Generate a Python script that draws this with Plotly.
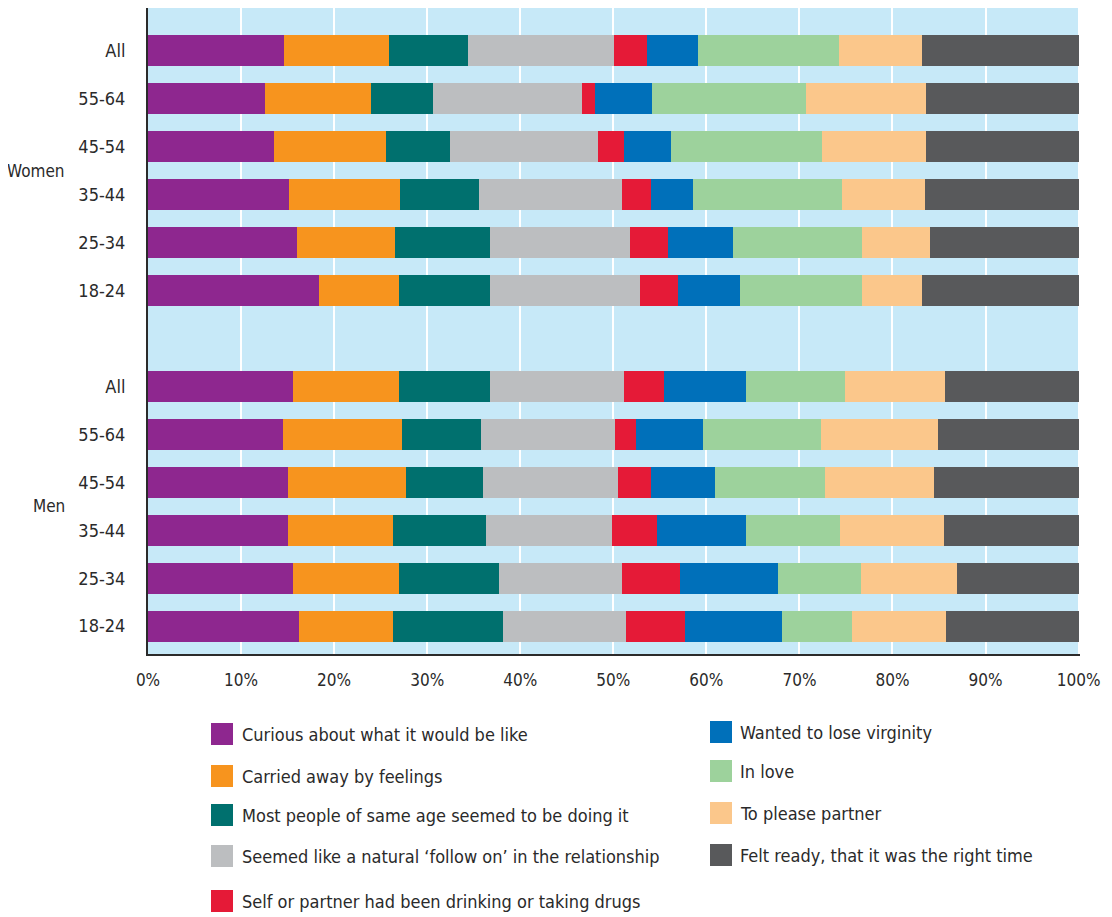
import plotly.graph_objects as go

# ---------------- data ----------------
groups = ["Women", "Men"]
ages = ["All", "55-64", "45-54", "35-44", "25-34", "18-24"]

reasons = [
    "Curious about what it would be like",
    "Carried away by feelings",
    "Most people of same age seemed to be doing it",
    "Seemed like a natural \u2018follow on\u2019 in the relationship",
    "Self or partner had been drinking or taking drugs",
    "Wanted to lose virginity",
    "In love",
    "To please partner",
    "Felt ready, that it was the right time",
]

# values per reason, rows: Women All,55-64,45-54,35-44,25-34,18-24, Men All,55-64,45-54,35-44,25-34,18-24
curious   = [14.6, 12.6, 13.5, 15.1, 16.0, 18.4, 15.6, 14.5, 15.0, 15.0, 15.6, 16.2]
carried   = [11.3, 11.4, 12.1, 12.0, 10.5, 8.6, 11.4, 12.8, 12.7, 11.3, 11.4, 10.1]
most      = [8.5, 6.6, 6.9, 8.5, 10.3, 9.8, 9.8, 8.5, 8.3, 10.0, 10.7, 11.8]
natural   = [15.7, 16.0, 15.9, 15.3, 15.0, 16.1, 14.3, 14.4, 14.5, 13.6, 13.2, 13.3]
drinking  = [3.5, 1.4, 2.8, 3.2, 4.1, 4.0, 4.4, 2.2, 3.5, 4.8, 6.3, 6.3]
virginity = [5.5, 6.2, 5.0, 4.5, 7.0, 6.7, 8.8, 7.2, 6.9, 9.6, 10.5, 10.4]
in_love   = [15.2, 16.5, 16.2, 16.0, 13.8, 13.1, 10.6, 12.7, 11.9, 10.1, 8.9, 7.6]
please    = [8.9, 12.9, 11.2, 8.9, 7.3, 6.5, 10.7, 12.6, 11.7, 11.1, 10.3, 10.1]
ready     = [16.8, 16.4, 16.4, 16.5, 16.0, 16.8, 14.4, 15.1, 15.5, 14.5, 13.1, 14.2]

series = [curious, carried, most, natural, drinking, virginity, in_love, please, ready]
colors = ["#8e278f", "#f7941e", "#00706e", "#bcbec0", "#e51a37",
          "#0070ba", "#9dd29c", "#fbc78b", "#58595b"]

x_ticks = list(range(0, 101, 10))
x_tick_text = [f"{v}%" for v in x_ticks]

# ---------------- layout helpers ----------------
OFF = 8                      # page body margin in the browser
W, H = 1104, 909
ML, MR, MT, MB = 140, 32, 0, 263
FONT = "DejaVu Sans Condensed, Liberation Sans Narrow, Roboto, sans-serif"
TXT = "#2a2a2a"

def px_to_paper_x(px):
    return (px - OFF - ML) / (W - ML - MR)

def px_to_paper_y(py):
    return (H - MB - (py - OFF)) / (H - MT - MB)

# y positions: women rows 0..5, blank slot, men rows 7..12
y_pos = []
y_text = []
for g_i, g in enumerate(groups):
    for a_i, a in enumerate(ages):
        y_pos.append(g_i * (len(ages) + 1) + a_i)
        y_text.append(a)

fig = go.Figure()
for name, vals, col in zip(reasons, series, colors):
    fig.add_trace(go.Bar(
        x=vals, y=y_pos, orientation="h", name=name,
        marker=dict(color=col, line=dict(width=0)),
        width=0.65, showlegend=False,
    ))

# group labels
group_centers = [g_i * (len(ages) + 1) + (len(ages) - 1) / 2 for g_i in range(len(groups))]
annotations = []
for g, yc in zip(groups, group_centers):
    annotations.append(dict(
        text=g, x=px_to_paper_x(67), xref="paper", y=yc, yref="y",
        xanchor="right", yanchor="middle", showarrow=False,
        font=dict(family=FONT, size=17, color=TXT),
    ))

# manual legend (two columns)
leg_cols = [(211, 243, [734, 776, 815, 856, 901]),
            (710, 741, [732, 771, 813, 855])]
shapes = []
idx = 0
for (mx, tx, ys) in leg_cols:
    for yc in ys:
        shapes.append(dict(
            type="rect", xref="paper", yref="paper",
            x0=px_to_paper_x(mx), x1=px_to_paper_x(mx + 22),
            y0=px_to_paper_y(yc + 11), y1=px_to_paper_y(yc - 11),
            fillcolor=colors[idx], line=dict(width=0),
        ))
        annotations.append(dict(
            text=reasons[idx], x=px_to_paper_x(tx - 3), xref="paper",
            y=px_to_paper_y(yc), yref="paper",
            xanchor="left", yanchor="middle", showarrow=False,
            font=dict(family=FONT, size=18, color=TXT),
        ))
        idx += 1

fig.update_layout(
    barmode="stack",
    width=W, height=H,
    margin=dict(l=ML, r=MR, t=MT, b=MB, pad=0),
    paper_bgcolor="white",
    plot_bgcolor="#c7e9f8",
    font=dict(family=FONT, size=18, color=TXT),
    bargap=0,
    shapes=shapes,
    annotations=annotations,
    showlegend=False,
)
fig.update_xaxes(
    range=[0, 100.15], tickvals=x_ticks, ticktext=x_tick_text,
    showgrid=True, gridcolor="white", gridwidth=2,
    showline=True, linecolor="#2b2b2b", linewidth=2,
    zeroline=False, ticks="", ticklabelstandoff=10,
    tickfont=dict(family=FONT, size=17, color=TXT),
)
fig.update_yaxes(
    range=[12.58, -0.89], tickvals=y_pos, ticktext=y_text,
    showgrid=False, showline=True, linecolor="#2b2b2b", linewidth=2,
    zeroline=False, ticks="", ticklabelstandoff=17,
    tickfont=dict(family=FONT, size=18, color=TXT),
)

fig.write_html("out.html")
